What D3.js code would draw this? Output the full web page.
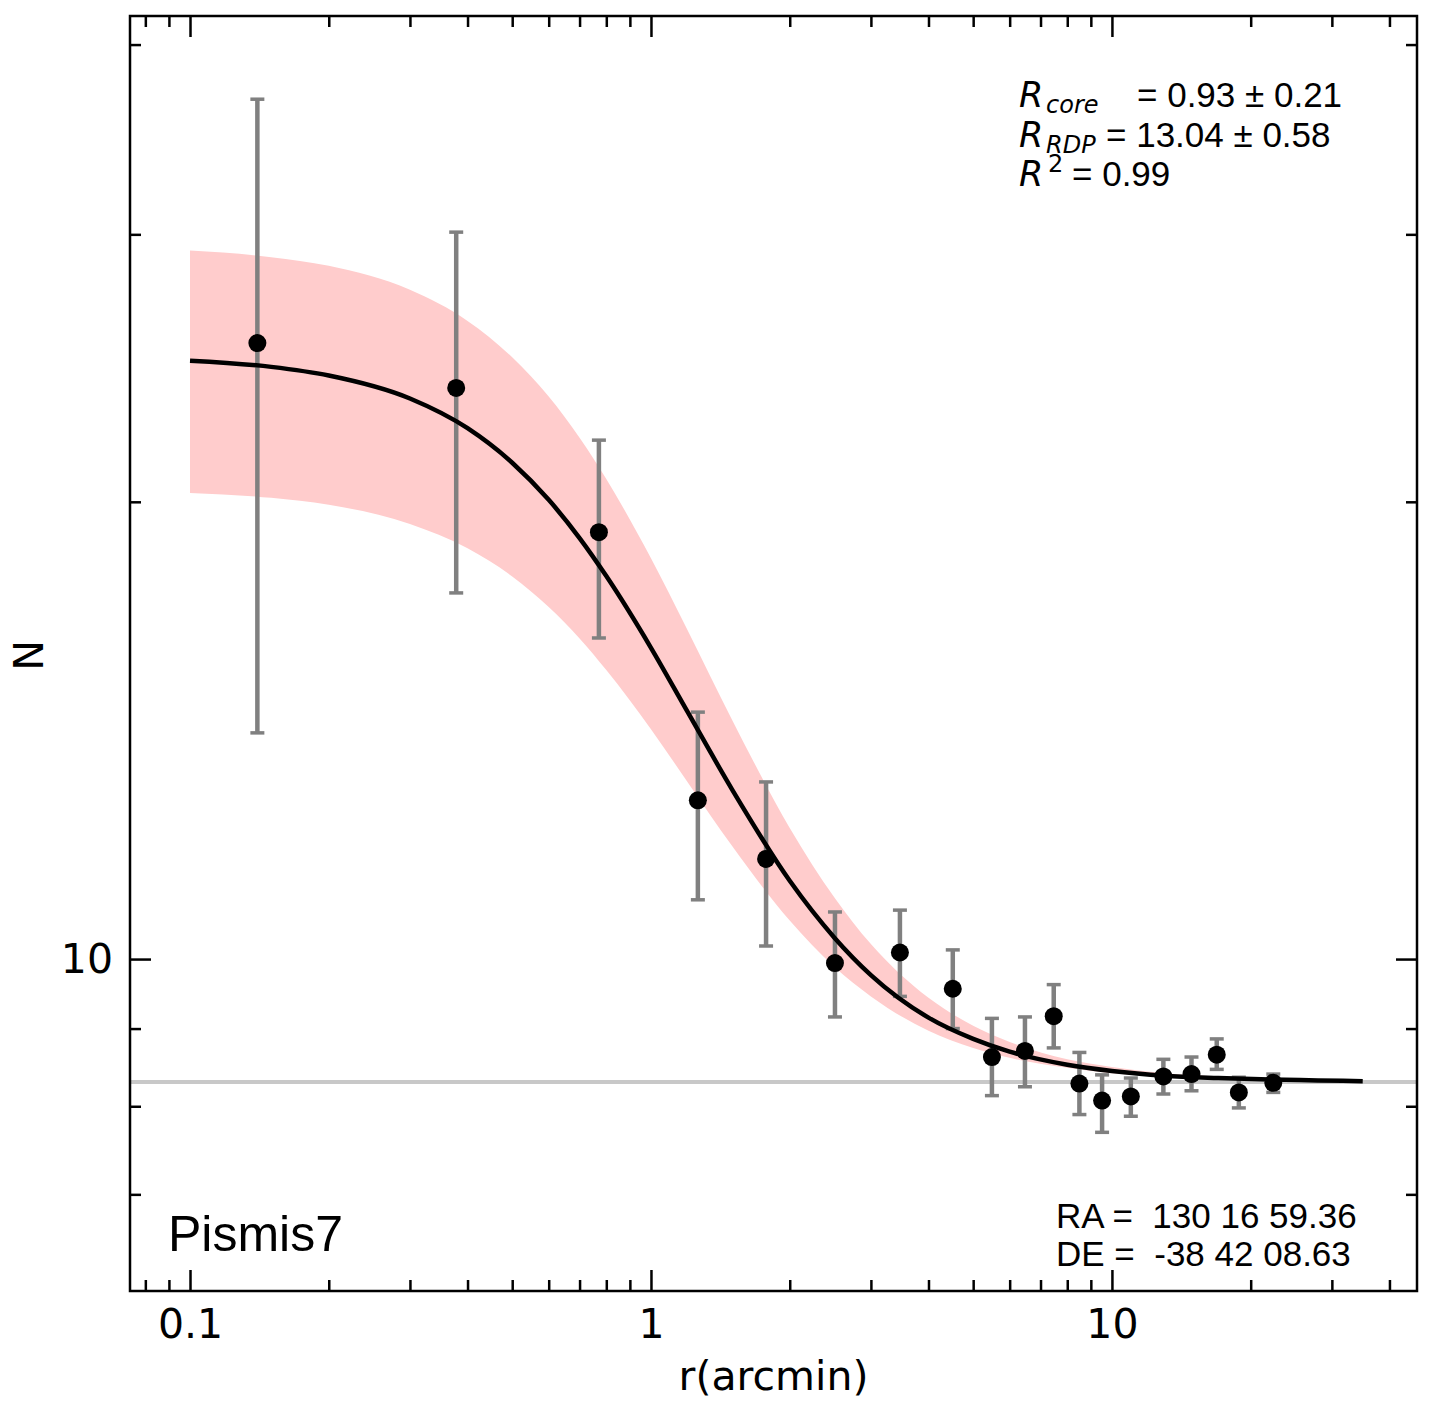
<!DOCTYPE html>
<html>
<head>
<meta charset="utf-8">
<style>
  body { margin: 0; background: #fff; }
  .tick text { font-family: "DejaVu Sans", sans-serif; font-size: 41px; fill: #000; }
  .tick line { stroke: #000; stroke-width: 2.5; }
  .label { font-family: "DejaVu Sans", sans-serif; font-size: 41px; fill: #000; }
  .note { font-family: "Liberation Sans", Arial, sans-serif; font-size: 35px; fill: #000; white-space: pre; }
  .math { font-family: "DejaVu Sans", sans-serif; font-style: italic; fill: #000; }
</style>
<title>Pismis7 radial density profile</title>
</head>
<body>
<script src="https://cdn.jsdelivr.net/npm/d3@7"></script>
<script>

var radius    = [0.140, 0.378, 0.771, 1.264, 1.777, 2.507, 3.468, 4.516, 5.491, 6.476,
                 7.477, 8.50, 9.52, 10.99, 12.93, 14.88, 16.88, 18.85, 22.39];
var density   = [25.44, 23.77, 19.10, 12.72, 11.64, 9.94, 10.10, 9.56, 8.62, 8.70,
                 9.17, 8.28, 8.07, 8.12, 8.37, 8.40, 8.65, 8.17, 8.29];
var errTop    = [36.82, 30.10, 21.96, 14.54, 13.08, 10.74, 10.77, 10.14, 9.14, 9.16,
                 9.62, 8.68, 8.39, 8.35, 8.59, 8.62, 8.86, 8.36, 8.40];
var errBottom = [14.09, 17.42, 16.27, 10.94, 10.20, 9.16, 9.45, 9.00, 8.13, 8.24,
                 8.74, 7.90, 7.69, 7.88, 8.15, 8.19, 8.46, 7.98, 8.17];

// fitted curve and its shaded band
var fitR     = [0.1, 0.15, 0.2, 0.3, 0.4, 0.5, 0.6, 0.7, 0.8, 1.0, 1.2, 1.5, 2.0, 2.5,
                3, 4, 5, 6, 8, 10, 13, 17, 22, 28, 35];
var fitN     = [24.77, 24.54, 24.22, 23.39, 22.36, 21.22, 20.06, 18.93, 17.87, 16.03,
                14.55, 12.93, 11.26, 10.33, 9.76, 9.15, 8.86, 8.69, 8.52, 8.44,
                8.38, 8.35, 8.33, 8.32, 8.31];
var bandHigh = [29.27, 28.98, 28.60, 27.58, 26.31, 24.90, 23.46, 22.04, 20.70, 18.36,
                16.47, 14.37, 12.20, 10.98, 10.23, 9.43, 9.04, 8.82, 8.59, 8.49,
                8.41, 8.37, 8.34, 8.32, 8.32];
var bandLow  = [20.27, 20.12, 19.91, 19.34, 18.64, 17.86, 17.05, 16.26, 15.50, 14.17,
                13.08, 11.87, 10.60, 9.88, 9.45, 8.97, 8.74, 8.61, 8.48, 8.41,
                8.37, 8.34, 8.32, 8.31, 8.31];

var background = 8.30;

// ticks
var xMajor = [0.1, 1, 10];
var xMinor = [0.08, 0.09, 0.2, 0.3, 0.4, 0.5, 0.6, 0.7, 0.8, 0.9,
              2, 3, 4, 5, 6, 7, 8, 9, 20, 30, 40];
var yMajor = [10];
var yMinor = [7, 8, 9, 20, 30, 40];

var margin = {top: 16, right: 13, bottom: 122, left: 130},
    width  = 1430 - margin.left - margin.right,
    height = 1413 - margin.top - margin.bottom;

var x = d3.scaleLog().domain([0.0741, 45.9]).range([0, width]);
var y = d3.scaleLog().domain([6.046, 41.77]).range([height, 0]);

var svg = d3.select("body").append("svg")
    .attr("width", 1430)
    .attr("height", 1413)
  .append("g")
    .attr("transform", `translate(${margin.left},${margin.top})`);

// shaded band
var band = fitR.map((r, i) => ({r: r, lo: bandLow[i], hi: bandHigh[i]}));
svg.append("path")
    .datum(band)
    .attr("fill", "#ffcccc")
    .attr("d", d3.area()
        .curve(d3.curveMonotoneX)
        .x(d => x(d.r))
        .y0(d => y(d.lo))
        .y1(d => y(d.hi)));

// background level
svg.append("line")
    .attr("x1", 0).attr("x2", width)
    .attr("y1", y(background)).attr("y2", y(background))
    .attr("stroke", "#c8c8c8")
    .attr("stroke-width", 4);

// error bars
var pts = radius.map((r, i) => ({r: r, n: density[i], lo: errBottom[i], hi: errTop[i]}));
var bars = svg.append("g").attr("stroke", "#808080");
bars.selectAll(".bar").data(pts).enter().append("line")
    .attr("x1", d => x(d.r)).attr("x2", d => x(d.r))
    .attr("y1", d => y(d.lo)).attr("y2", d => y(d.hi))
    .attr("stroke-width", 4.5);
bars.selectAll(".capTop").data(pts).enter().append("line")
    .attr("x1", d => x(d.r) - 7).attr("x2", d => x(d.r) + 7)
    .attr("y1", d => y(d.hi)).attr("y2", d => y(d.hi))
    .attr("stroke-width", 3.5);
bars.selectAll(".capBot").data(pts).enter().append("line")
    .attr("x1", d => x(d.r) - 7).attr("x2", d => x(d.r) + 7)
    .attr("y1", d => y(d.lo)).attr("y2", d => y(d.lo))
    .attr("stroke-width", 3.5);

// fitted curve
var fit = fitR.map((r, i) => ({r: r, n: fitN[i]}));
svg.append("path")
    .datum(fit)
    .attr("fill", "none")
    .attr("stroke", "#000")
    .attr("stroke-width", 4.5)
    .attr("d", d3.line()
        .curve(d3.curveMonotoneX)
        .x(d => x(d.r))
        .y(d => y(d.n)));

// data points
svg.selectAll(".pt").data(pts).enter().append("circle")
    .attr("cx", d => x(d.r))
    .attr("cy", d => y(d.n))
    .attr("r", 9)
    .attr("fill", "#000");

// axes, ticks pointing inwards on all four sides
function addAxis(make, scale, values, size, transform, labels, pad) {
    var g = svg.append("g")
        .attr("transform", transform)
        .call(make(scale)
            .tickValues(values)
            .tickSizeInner(-size)
            .tickSizeOuter(0)
            .tickPadding(pad)
            .tickFormat(labels ? d3.format("~g") : ""));
    g.select(".domain").remove();
    return g;
}

addAxis(d3.axisBottom, x, xMajor, 21, `translate(0,${height})`, true, 18);
addAxis(d3.axisBottom, x, xMinor, 11, `translate(0,${height})`, false, 18);
addAxis(d3.axisTop, x, xMajor, 21, "translate(0,0)", false, 0);
addAxis(d3.axisTop, x, xMinor, 11, "translate(0,0)", false, 0);
addAxis(d3.axisLeft, y, yMajor, 21, "translate(0,0)", true, 17);
addAxis(d3.axisLeft, y, yMinor, 11, "translate(0,0)", false, 17);
addAxis(d3.axisRight, y, yMajor, 21, `translate(${width},0)`, false, 0);
addAxis(d3.axisRight, y, yMinor, 11, `translate(${width},0)`, false, 0);

svg.append("rect")
    .attr("width", width).attr("height", height)
    .attr("fill", "none")
    .attr("stroke", "#000")
    .attr("stroke-width", 2.5);

// axis titles
svg.append("text")
    .attr("class", "label")
    .attr("x", width / 2).attr("y", 1374)
    .attr("text-anchor", "middle")
    .text("r(arcmin)");

svg.append("text")
    .attr("class", "label")
    .attr("transform", `translate(${43 - margin.left},${height / 2 + 2}) rotate(-90)`)
    .attr("text-anchor", "middle")
    .text("N");

// fit parameters (page coordinates)
var page = d3.select("svg");
function mathLine(base, sub, subDy, subX, rest, restX, yBase) {
    page.append("text").attr("class", "math")
        .attr("x", 1019).attr("y", yBase)
        .style("font-size", "35px").text(base);
    page.append("text").attr("class", "math")
        .attr("x", subX).attr("y", yBase + subDy)
        .style("font-size", "24px").text(sub);
    page.append("text").attr("class", "note")
        .attr("x", restX).attr("y", yBase).text(rest);
}
mathLine("R", "core", 6, 1046, "= 0.93 \u00b1 0.21", 1137, 107);
mathLine("R", "RDP", 6, 1046, "= 13.04 \u00b1 0.58", 1106, 146.5);
page.append("text").attr("class", "math")
    .attr("x", 1019).attr("y", 186)
    .style("font-size", "35px").text("R");
page.append("text").attr("class", "math")
    .attr("x", 1048).attr("y", 172)
    .style("font-size", "24px").style("font-style", "normal").text("2");
page.append("text").attr("class", "note")
    .attr("x", 1072).attr("y", 186).text("= 0.99");

// cluster name and coordinates
page.append("text").attr("class", "note")
    .attr("x", 168).attr("y", 1251)
    .style("font-size", "50px").text("Pismis7");
page.append("text").attr("class", "note")
    .attr("x", 1056).attr("y", 1228).text("RA =  130 16 59.36");
page.append("text").attr("class", "note")
    .attr("x", 1056).attr("y", 1266).text("DE =  -38 42 08.63");

</script>
</body>
</html>
